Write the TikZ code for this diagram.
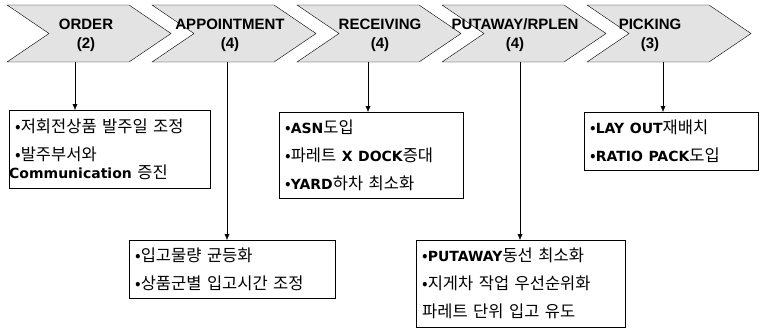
\documentclass[tikz,border=0pt]{standalone}
\usepackage{fontspec}
\setmainfont{Noto Sans CJK KR}
\newfontfamily\latfont{DejaVu Sans}
\newfontfamily\chevfont{Liberation Sans}
\usetikzlibrary{arrows.meta}
\newcommand{\lb}[1]{{\latfont\bfseries\fontsize{14}{28}\selectfont #1}}

\begin{document}
\begin{tikzpicture}[x=1pt,y=-1pt]
\tikzstyle{chevline}=[draw,fill=gray!22,line join=miter]
\tikzstyle{chevtxt}=[align=center,inner sep=0pt,font=\chevfont\bfseries\fontsize{15}{19}\selectfont]
\tikzstyle{infobox}=[draw,anchor=north west,inner xsep=6pt,inner ysep=0pt,align=left,font=\fontsize{16.5}{28}\selectfont]
\tikzstyle{conn}=[-{Latex[length=6pt,width=5pt]}]
\useasboundingbox (0,0) rectangle (760,329);

% process steps
\foreach \x/\n in {7/order,152/appt,297/recv,442/putaway,587/picking}{
  \draw[chevline] (\x,5) -- ++(122,0) -- ++(42,28.5) -- ++(-42,28.5) -- ++(-122,0) -- ++(42,-28.5) -- cycle;
  \coordinate (\n-bot) at (\x+82,62);
}
\node[chevtxt] (order) at (86,35.5) {ORDER\\(2)};
\node[chevtxt] (appt) at (230,35.5) {APPOINTMENT\\(4)};
\node[chevtxt] (recv) at (380,35.5) {RECEIVING\\(4)};
\node[chevtxt] (putaway) at (515,35.5) {PUTAWAY/RPLEN\\(4)};
\node[chevtxt] (picking) at (650,35.5) {PICKING\\(3)};

% improvement boxes
\node[infobox,minimum width=201pt,minimum height=78pt,text width=189pt] (ordbox) at (9,110)
  {•저회전상품 발주일 조정\\•발주부서와\\[-10pt]\hspace*{-6pt}\lb{Communication} 증진};
\node[infobox,minimum width=206pt,minimum height=58pt,text width=194pt] (apptbox) at (129,240)
  {•입고물량 균등화\\•상품군별 입고시간 조정};
\node[infobox,minimum width=184pt,minimum height=86pt,text width=172pt] (recvbox) at (279,112)
  {•\lb{ASN}도입\\•파레트 \lb{X DOCK}증대\\•\lb{YARD}하차 최소화};
\node[infobox,minimum width=209pt,minimum height=87pt,text width=197pt] (putbox) at (416,240)
  {•\lb{PUTAWAY}동선 최소화\\•지게차 작업 우선순위화\\파레트 단위 입고 유도};
\node[infobox,minimum width=174pt,minimum height=58pt,text width=162pt] (pickbox) at (584,112)
  {•\lb{LAY OUT}재배치\\•\lb{RATIO PACK}도입};

\draw[conn] (75,0 |- order-bot) -- (75,0 |- ordbox.north);
\draw[conn] (227,0 |- appt-bot) -- (227,0 |- apptbox.north);
\draw[conn] (368,0 |- recv-bot) -- (368,0 |- recvbox.north);
\draw[conn] (520,0 |- putaway-bot) -- (520,0 |- putbox.north);
\draw[conn] (663,0 |- picking-bot) -- (663,0 |- pickbox.north);
\end{tikzpicture}
\end{document}
